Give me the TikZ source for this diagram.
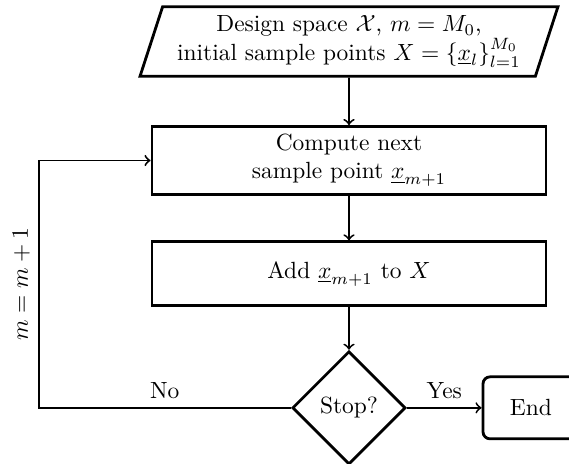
\documentclass[tikz,border=0pt]{standalone}
\usetikzlibrary{shapes.geometric, positioning}

\begin{document}
\begin{tikzpicture}[node distance=1cm,
    block/.style={draw, very thick, rectangle, minimum width=5.91cm, minimum height=0.96cm, align=center},
    io/.style={draw, very thick, trapezium, trapezium left angle=72, trapezium right angle=108, minimum width=6.26cm, minimum height=1.04cm, align=center},
    decision/.style={draw, very thick, diamond, aspect=1, minimum size=1.7cm, inner sep=1pt},
    endbox/.style={draw, very thick, rectangle, rounded corners=3pt, minimum width=1.44cm, minimum height=0.93cm},
    flow/.style={->, thick}]

            \useasboundingbox (-5.235,0.6225) rectangle (3.30,-6.3225);

            \node[io] (input)
            {Design space $\mathcal{X}$, $m = M_0$,\\ initial sample points $X = \{\underline{x}_l\}_{l=1}^{M_0}$};

            \node[block, below of=input, node distance=1.785cm] (compute)
            {Compute next\\ sample point $\underline{x}_{m+1}$};

            \node[block, below of=compute, node distance=1.70cm] (add)
            {Add $\underline{x}_{m+1}$ to $X$};

            \node[decision, below of=add, node distance=2.01cm] (stop) {Stop?};

            \node[endbox, right of=stop, node distance=2.73cm] (finish) {End};

            \coordinate[left=1.68cm of compute.west] (loop);

            \draw[flow] (input) -- (compute);
            \draw[flow] (compute) -- (add);
            \draw[flow] (add) -- (stop);
            \draw[flow] (stop) -- node[above] {Yes} (finish);
            \draw[flow] (stop.west) -- node[above] {No} (stop.west -| loop)
                -- node[above, sloped] {$m = m + 1$} (loop) -- (compute.west);

        \end{tikzpicture}
\end{document}
